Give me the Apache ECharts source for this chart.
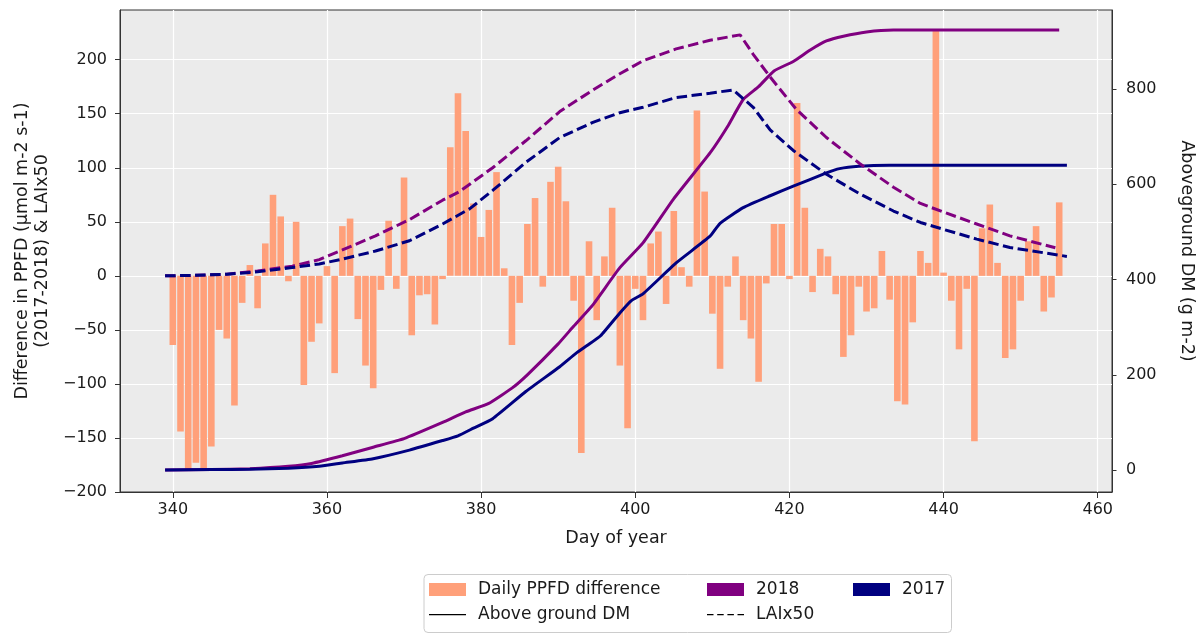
<!DOCTYPE html>
<html><head><meta charset="utf-8">
<script src="https://cdn.jsdelivr.net/npm/echarts@6/dist/echarts.min.js"></script>
<style>html,body{margin:0;padding:0;background:#fff}#c{width:1204px;height:635px}</style>
</head><body><div id="c"></div>
<script>
// ---- data ----
const ppfdDays = [340,341,342,343,344,345,346,347,348,349,350,351,352,353,354,355,356,357,358,359,
  360,361,362,363,364,365,366,367,368,369,370,371,372,373,374,375,376,377,378,379,
  380,381,382,383,384,385,386,387,388,389,390,391,392,393,394,395,396,397,398,399,
  400,401,402,403,404,405,406,407,408,409,410,411,412,413,414,415,416,417,418,419,
  420,421,422,423,424,425,426,427,428,429,430,431,432,433,434,435,436,437,438,439,
  440,441,442,443,444,445,446,447,448,449,450,451,452,453,454,455];
const ppfdDiff = [-64,-144,-179,-173,-179,-158,-50,-58,-120,-25,10,-30,30,75,55,-5,50,-101,-61,-44,
  9,-90,46,53,-40,-83,-104,-13,51,-12,91,-55,-18,-17,-45,-3,119,169,134,67,
  36,61,96,7,-64,-25,48,72,-10,87,101,69,-23,-164,32,-41,18,63,-83,-141,
  -12,-41,30,41,-26,60,8,-10,153,78,-35,-86,-10,18,-41,-58,-98,-7,48,48,
  -3,160,63,-15,25,18,-17,-75,-55,-10,-33,-30,23,-22,-116,-119,-43,23,12,228,
  3,-23,-68,-12,-153,44,66,12,-76,-68,-23,32,46,-33,-20,68];

const dm2018Days = [339,345,350,355,358,362,366,370,375,378,381,384,386,390,392,394.5,398,401,405,409.7,412,414,416,418,420.5,422.7,424.8,427,430,433.5,455];
const dm2018 = [0,1,3,8,14,30,48,66,100,122,140,172,200,265,302,347,425,477,570,666,722,778,805,838,858,882,901,911,920,924,924];

const dm2017Days = [339,345,350,355,359,362,366,370.7,375,377,379,381.5,385.8,390.2,392.3,393.8,395.5,398,399.5,401,405.3,409.7,411,414,417.5,420.5,424.8,426.5,429,433,456];
const dm2017 = [0,1,2,4,8,15,24,42,62,72,88,108,165,217,245,262,282,330,356,370,435,491,518,551,576,596,624,633,638,640,640];

const lai2018Days = [339,343,347,351,355.5,359,362,366.3,370.7,375,377.2,381.5,385.8,390.2,394.5,398,401,405.3,409.7,413.6,415.3,417.5,420.9,424.8,429.1,433.5,437,440,444.3,448.6,454.5];
const lai2018 = [0,0.5,1.5,4.5,9,15,24,37,52,70,78,100,125,152,172,187,199,210,218,223,205,184,154,128,104,82,67,59,48,37,26];

const lai2017Days = [339,343,347,351,355.5,359,362,366.3,370.7,375,378.5,381.5,385.8,390.2,394.5,398,401,405.3,409.7,412.7,415.3,417.5,420.5,424.8,429.1,433.5,437,440,444.3,448.6,456];
const lai2017 = [0,0.5,1.5,3.7,7.7,11,15.5,23,32.5,48,62,79,105,128,142,151,156,165,169,172,156,135,116,94,76,60,49.4,43,34,26.3,18];

const xTicks = [340,360,380,400,420,440,460];
const leftTicks = [-200,-150,-100,-50,0,50,100,150,200];
const rightTicks = [0,200,400,600,800];

// ---- style ----
const FONT = 'DejaVu Sans';
const PURPLE = '#800080', NAVY = '#000080', SALMON = '#FFA07A';
const TXT = '#1a1a1a', AXIS = '#333333';

function zip(a, b) { return a.map((v, i) => [v, b[i]]); }
function minus(v) { return String(v).replace('-', '\u2212'); }

const solidIcon = 'path://M0,0M0,13M0,5.9H37V7.3H0Z';
const dashIcon = 'path://M0,0M0,13M0,5.9H6.5V7.3H0Z M10.2,5.9H16.7V7.3H10.2Z M20.4,5.9H26.9V7.3H20.4Z M30.5,5.9H37V7.3H30.5Z';

function leg(name, left, top, icon) {
  return {
    show: true, data: [{name: name, icon: icon}], left: left, top: top, padding: 0,
    itemWidth: 37, itemHeight: 13, selectedMode: false, orient: 'horizontal',
    textStyle: {fontFamily: FONT, fontSize: 17, color: TXT, padding: [0, 0, 0, 7]}
  };
}

const chart = echarts.init(document.getElementById('c'), null, {renderer: 'canvas'});
chart.setOption({
  animation: false,
  backgroundColor: '#ffffff',
  grid: {left: 120, right: 92, top: 10, bottom: 143, show: true, backgroundColor: '#EBEBEB', borderColor: AXIS, borderWidth: 1},
  xAxis: {
    type: 'value', min: 333.15, max: 461.85,
    name: 'Day of year', nameLocation: 'middle', nameGap: 37,
    nameTextStyle: {fontFamily: FONT, fontSize: 17.5, color: TXT},
    axisLine: {show: true, onZero: false, lineStyle: {color: AXIS, width: 1}},
    axisTick: {show: true, length: 6, customValues: xTicks, lineStyle: {color: AXIS}},
    axisLabel: {customValues: xTicks, fontFamily: FONT, fontSize: 16, color: TXT, margin: 10},
    splitLine: {show: true, lineStyle: {color: '#ffffff', width: 1.2}}
  },
  yAxis: [{
    type: 'value', min: -200, max: 246, position: 'left',
    name: 'Difference in PPFD (µmol m-2 s-1)\n(2017-2018) & LAIx50',
    nameLocation: 'middle', nameRotate: 90, nameGap: 68,
    nameTextStyle: {fontFamily: FONT, fontSize: 17.5, color: TXT, lineHeight: 20, align: 'center'},
    axisLine: {show: true, onZero: false, lineStyle: {color: AXIS, width: 1}},
    axisTick: {show: true, length: 5, customValues: leftTicks, lineStyle: {color: AXIS}},
    axisLabel: {customValues: leftTicks, formatter: minus, fontFamily: FONT, fontSize: 16, color: TXT, margin: 13},
    splitLine: {show: true, lineStyle: {color: '#ffffff', width: 1.2}}
  }, {
    type: 'value', min: -46, max: 966, position: 'right',
    name: 'Aboveground DM (g m-2)', nameLocation: 'middle', nameRotate: -90, nameGap: 66,
    nameTextStyle: {fontFamily: FONT, fontSize: 17.5, color: TXT},
    axisLine: {show: true, onZero: false, lineStyle: {color: AXIS, width: 1}},
    axisTick: {show: true, length: 4.5, customValues: rightTicks, lineStyle: {color: AXIS}},
    axisLabel: {customValues: rightTicks, fontFamily: FONT, fontSize: 16, color: TXT, margin: 14},
    splitLine: {show: false}
  }],
  legend: [
    leg('Daily PPFD difference', 429, 581, 'rect'),
    leg('2018', 707, 581, 'rect'),
    leg('2017', 853, 581, 'rect'),
    leg('Above ground DM', 429, 606, solidIcon),
    leg('LAIx50', 707, 606, dashIcon)
  ],
  graphic: [{
    type: 'rect', z: 1, shape: {x: 424, y: 574.5, width: 527.5, height: 58, r: 4},
    style: {fill: 'rgba(255,255,255,0.8)', stroke: '#cccccc', lineWidth: 1}
  }],
  series: [
    {name: 'Daily PPFD difference', type: 'bar', yAxisIndex: 0, barWidth: 6.6,
     itemStyle: {color: SALMON}, data: zip(ppfdDays, ppfdDiff), z: 2},
    {name: 'DM 2018', type: 'line', yAxisIndex: 1, showSymbol: false, symbol: 'none', z: 3,
     smooth: 0.15,
     lineStyle: {color: PURPLE, width: 3}, itemStyle: {color: PURPLE}, data: zip(dm2018Days, dm2018)},
    {name: 'DM 2017', type: 'line', yAxisIndex: 1, showSymbol: false, symbol: 'none', z: 3,
     smooth: 0.15,
     lineStyle: {color: NAVY, width: 3}, itemStyle: {color: NAVY}, data: zip(dm2017Days, dm2017)},
    {name: 'LAI 2018', type: 'line', yAxisIndex: 0, showSymbol: false, symbol: 'none', z: 3,
     lineStyle: {color: PURPLE, width: 3, type: [10.5, 4.5]}, itemStyle: {color: PURPLE}, data: zip(lai2018Days, lai2018)},
    {name: 'LAI 2017', type: 'line', yAxisIndex: 0, showSymbol: false, symbol: 'none', z: 3,
     lineStyle: {color: NAVY, width: 3, type: [10.5, 4.5]}, itemStyle: {color: NAVY}, data: zip(lai2017Days, lai2017)},
    {name: '2018', type: 'line', data: [], itemStyle: {color: PURPLE}, lineStyle: {color: PURPLE}},
    {name: '2017', type: 'line', data: [], itemStyle: {color: NAVY}, lineStyle: {color: NAVY}},
    {name: 'Above ground DM', type: 'line', data: [], itemStyle: {color: '#000000'}, lineStyle: {color: '#000000'}},
    {name: 'LAIx50', type: 'line', data: [], itemStyle: {color: '#000000'}, lineStyle: {color: '#000000'}}
  ]
});
</script>
</body></html>
